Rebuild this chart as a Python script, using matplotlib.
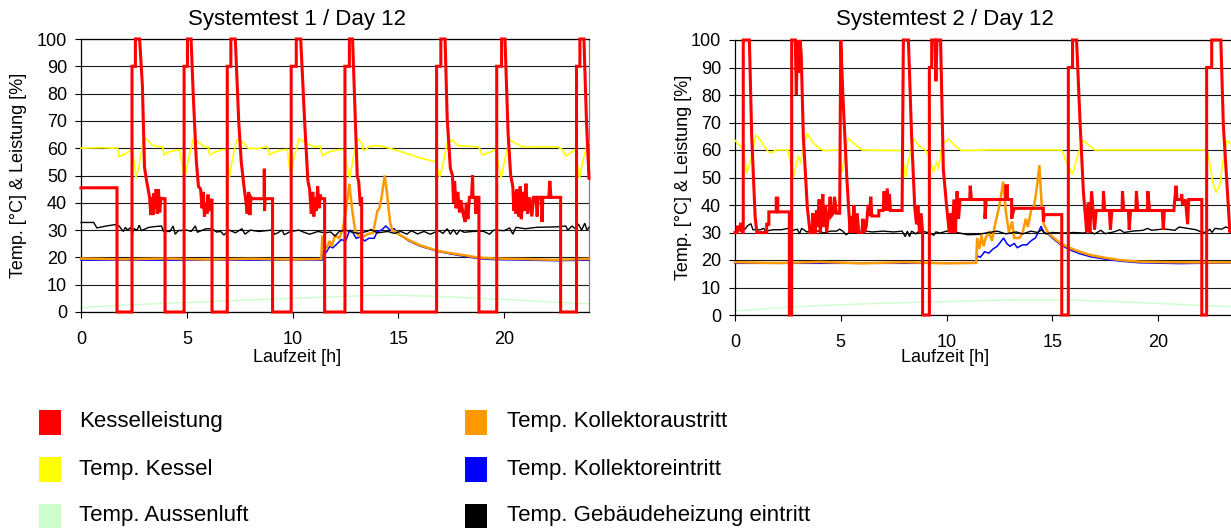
import matplotlib
matplotlib.use("Agg")
import matplotlib.pyplot as plt
from matplotlib.patches import Rectangle

plt.rcParams['font.family'] = ['Liberation Sans', 'DejaVu Sans']

titles = ["Systemtest 1 / Day 12", "Systemtest 2 / Day 12"]
xticks = [0, 5, 10, 15, 20]
yticks = [0, 10, 20, 30, 40, 50, 60, 70, 80, 90, 100]

labels = ["Kesselleistung", "Temp. Kessel", "Temp. Aussenluft",
          "Temp. Kollektoraustritt", "Temp. Kollektoreintritt", "Temp. Gebäudeheizung eintritt"]
colors = ["#ff0000", "#ffff00", "#ccffcc", "#ff9900", "#0000ff", "#000000"]

# ---- Systemtest 1 ----
s1_red = [(0, 45.5), (1.70, 45.5), (1.70, 0), (2.41, 0), (2.41, 90), (2.57, 90), (2.57, 100), (2.77, 100),
          (2.9, 83), (3.0, 53), (3.1, 48), (3.24, 42), (3.3, 35.5), (3.35, 42), (3.4, 35.5), (3.45, 43.5),
          (3.5, 38), (3.55, 45), (3.6, 36), (3.66, 45), (3.72, 36.5), (3.78, 42), (3.82, 41.5), (3.97, 41.5),
          (3.97, 0), (4.87, 0), (4.87, 90), (5.03, 90), (5.03, 100), (5.2, 100), (5.3, 80), (5.45, 55),
          (5.55, 46), (5.65, 45), (5.72, 38), (5.78, 44), (5.83, 35), (5.9, 40), (5.95, 36), (6.0, 43),
          (6.05, 37), (6.1, 41), (6.19, 41), (6.19, 0), (6.91, 0), (6.91, 90), (7.08, 90), (7.08, 100),
          (7.29, 100), (7.45, 70), (7.57, 55), (7.7, 46), (7.8, 40), (7.85, 36), (7.92, 44), (7.98, 35.5),
          (8.03, 42), (8.08, 41.5), (8.65, 41.5), (8.65, 52), (8.67, 52), (8.67, 37), (8.7, 41.5), (9.05, 41.5),
          (9.05, 0), (9.93, 0), (9.93, 90), (10.17, 90), (10.17, 100), (10.38, 100), (10.57, 69), (10.72, 48),
          (10.8, 45), (10.88, 36), (10.95, 44), (11.0, 35), (11.05, 42), (11.12, 37), (11.18, 46), (11.25, 38),
          (11.3, 43), (11.36, 41.5), (11.51, 41.5), (11.51, 0), (12.47, 0), (12.47, 90), (12.68, 90),
          (12.68, 100), (12.83, 100), (12.95, 73), (13.05, 50), (13.12, 47.7), (13.2, 39), (13.26, 42),
          (13.26, 0), (16.8, 0), (16.8, 90), (17.0, 90), (17.0, 100), (17.2, 100), (17.3, 71), (17.45, 52.6),
          (17.55, 50), (17.6, 40), (17.65, 48), (17.72, 38), (17.8, 44), (17.88, 36.5), (17.95, 41), (18.05, 36),
          (18.15, 33), (18.2, 40), (18.28, 34), (18.35, 42), (18.45, 42), (18.5, 50), (18.52, 42), (18.62, 42),
          (18.65, 36), (18.7, 42), (18.8, 42), (18.8, 0), (19.64, 0), (19.64, 90), (19.87, 90), (19.87, 100),
          (20.03, 100), (20.18, 65), (20.3, 50), (20.4, 46), (20.45, 37), (20.5, 44), (20.55, 36), (20.6, 45),
          (20.68, 35), (20.75, 46), (20.8, 34), (20.88, 44), (20.95, 37), (21.02, 47), (21.1, 36), (21.2, 42),
          (21.3, 35), (21.38, 42), (21.5, 42), (21.55, 35), (21.6, 42), (21.75, 42), (21.78, 33), (21.82, 42),
          (22.1, 42), (22.15, 48), (22.2, 42), (22.66, 42), (22.66, 0), (23.41, 0), (23.41, 90), (23.57, 90),
          (23.57, 100), (23.76, 100), (23.88, 70), (24, 49)]
s1_yellow = [(0, 60), (1.0, 60.2), (1.5, 60.0), (1.72, 60.2), (1.80, 57), (2.0, 57.5), (2.3, 59), (2.45, 59),
             (2.6, 49), (2.75, 54), (2.95, 63), (3.1, 63.3), (3.4, 61), (3.7, 60.5), (3.85, 60.5), (3.92, 57.5),
             (4.1, 58.5), (4.5, 59.3), (4.65, 59.3), (4.9, 49), (5.05, 55), (5.3, 63.3), (5.5, 62.5), (5.8, 60.6),
             (6.0, 60.4), (6.08, 57.5), (6.3, 58.5), (6.7, 59.5), (6.85, 59.5), (7.0, 49), (7.15, 56), (7.35, 63),
             (7.6, 62.5), (7.9, 60), (8.3, 59.8), (8.8, 60.5), (8.9, 57.5), (9.1, 58.5), (9.6, 59.5), (9.75, 59.5),
             (9.9, 49), (10.05, 56), (10.3, 63.5), (10.6, 62), (11.0, 60.5), (11.3, 60.7), (11.4, 57.3),
             (11.7, 58.6), (12.2, 59.5), (12.42, 59.5), (12.7, 49), (12.85, 56), (13.05, 63.5), (13.25, 62),
             (13.35, 59), (13.6, 60.5), (13.9, 61), (14.3, 60.6), (15.0, 59), (16.0, 56.5), (16.75, 55),
             (16.95, 49.5), (17.1, 54), (17.3, 62), (17.55, 63), (17.8, 61), (18.2, 60.8), (18.8, 60.5),
             (18.95, 57.5), (19.3, 58.5), (19.6, 59.5), (19.85, 49), (20.0, 55), (20.25, 63), (20.5, 62),
             (20.8, 60.6), (21.5, 60.5), (22.5, 60.5), (22.75, 59.5), (22.9, 57.2), (23.2, 58.7), (23.35, 59.5),
             (23.55, 49), (23.7, 55), (23.95, 62.5), (24, 62)]
s1_green = [(0, 1.6), (2, 2.5), (4, 3.2), (6, 3.8), (8, 4.4), (10, 5.0), (12, 5.6), (13.5, 6.0), (15, 6.1),
            (16.5, 5.8), (18, 5.3), (20, 4.6), (22, 3.8), (24, 3.0)]
s1_orange = [(0, 19.6), (2, 19.3), (4, 19.6), (6, 19.2), (8, 19.5), (10, 19.2), (11.35, 19.4), (11.4, 28),
             (11.5, 24), (11.6, 23.5), (11.75, 26), (11.85, 24), (12.0, 28), (12.2, 27), (12.35, 30), (12.5, 36),
             (12.68, 47), (12.8, 38), (12.95, 30), (13.1, 28), (13.3, 27.5), (13.55, 28.5), (13.8, 29), (14.0, 37),
             (14.1, 38), (14.2, 42), (14.35, 50), (14.45, 44), (14.6, 33), (14.7, 30), (14.85, 29.5), (15.0, 28.5),
             (15.5, 26.3), (16.0, 24.5), (16.8, 22.5), (17.5, 21.5), (18.1, 20.8), (18.7, 20), (19.5, 19.6),
             (21, 19.4), (22.5, 19.1), (24, 19.5)]
s1_blue = [(0, 19.0), (11.4, 19.0), (11.45, 22.5), (11.6, 22), (11.75, 24), (11.9, 23.5), (12.1, 25), (12.3, 26.5),
           (12.5, 26), (12.7, 30), (12.85, 29), (13.0, 27), (13.2, 27.5), (13.4, 26), (13.6, 27), (13.85, 27),
           (14.0, 29.5), (14.2, 30), (14.4, 31.5), (14.6, 30), (14.8, 30.5), (15.0, 28.5), (15.5, 26), (16.0, 24.2),
           (16.8, 22.3), (17.5, 21.2), (18.1, 20.4), (18.8, 19.5), (19.5, 19.2), (21, 19.0), (22.5, 18.8), (24, 19)]
s1_black = [(0, 32.8), (0.6, 32.8), (0.75, 30.8), (1.2, 31.5), (1.6, 32), (1.8, 31.5), (2.0, 29.5), (2.1, 31),
            (2.2, 30), (2.35, 31), (2.42, 28.5), (2.5, 30.5), (2.65, 30), (2.75, 31.8), (2.85, 29.8), (3.2, 31),
            (3.5, 31.3), (3.8, 31.5), (3.9, 29.5), (4.2, 29.5), (4.35, 31.5), (4.45, 28.5), (4.6, 29.8), (5.0, 30),
            (5.2, 29.5), (5.4, 31.5), (5.5, 29.2), (5.9, 30.5), (6.2, 30.5), (6.4, 29.3), (6.6, 29.5), (6.75, 28.2),
            (7.0, 30), (7.3, 29), (7.6, 30.5), (7.75, 28.5), (8.0, 30), (8.4, 29.5), (9.0, 30), (9.15, 28.5),
            (9.3, 29), (9.5, 30), (9.6, 28.3), (9.9, 29.5), (10.3, 30), (10.5, 29.3), (10.8, 28.5), (11.2, 29.5),
            (11.5, 29), (11.8, 29.3), (12.0, 27.8), (12.2, 29.5), (12.5, 30), (12.8, 29.3), (13.1, 28.8),
            (13.5, 29.5), (13.7, 30.2), (14.0, 29.0), (14.5, 29.5), (14.8, 28.8), (15.1, 29.5), (15.4, 28.5),
            (15.6, 29.8), (15.9, 28.6), (16.2, 29.5), (16.5, 28.5), (16.9, 29.8), (17.1, 28.8), (17.3, 30.5),
            (17.45, 28.5), (17.6, 30.2), (17.75, 28.4), (17.9, 30.0), (18.1, 29.2), (18.5, 29.5), (19.0, 29.6),
            (19.3, 28.5), (19.5, 30), (20.0, 29.8), (20.25, 30.8), (20.4, 28.5), (20.55, 31), (21.0, 30.5),
            (21.5, 31), (22.5, 31.2), (22.9, 31.5), (23.0, 30), (23.2, 31.5), (23.35, 30.5), (23.5, 32.2),
            (23.65, 30), (23.8, 32.5), (23.9, 30), (24, 31)]

# ---- Systemtest 2 ----
s2_red = [(0, 30), (0.1, 30), (0.1, 32), (0.2, 32), (0.2, 30.5), (0.28, 33.5), (0.35, 30), (0.39, 30), (0.39, 100),
          (0.68, 100), (0.79, 65), (0.95, 36), (1.03, 30), (1.5, 30), (1.5, 33), (1.6, 33), (1.6, 37.5), (1.95, 37.5),
          (1.95, 42.5), (2.02, 42.5), (2.02, 37.5), (2.57, 37.5), (2.57, 0), (2.68, 0), (2.68, 100), (2.85, 100),
          (2.9, 80), (2.95, 100), (3.02, 88), (3.08, 100), (3.13, 95), (3.23, 65), (3.42, 39), (3.55, 30),
          (3.65, 30), (3.68, 37), (3.72, 30), (3.8, 30), (3.85, 38), (3.9, 32), (3.98, 42), (4.03, 30), (4.1, 35),
          (4.15, 44), (4.2, 32), (4.28, 40), (4.33, 30), (4.45, 38), (4.5, 43), (4.55, 36), (4.65, 37), (4.7, 43),
          (4.8, 37), (4.95, 37), (5.0, 100), (5.1, 80), (5.28, 51), (5.44, 30), (5.5, 36), (5.56, 30), (5.62, 40),
          (5.7, 30), (5.78, 37), (5.85, 30), (6.0, 30), (6.05, 35), (6.1, 30), (6.2, 32), (6.3, 40), (6.35, 36),
          (6.42, 43), (6.47, 36), (6.8, 36), (6.8, 38), (7.0, 38), (7.05, 45), (7.1, 38), (7.2, 46), (7.25, 38),
          (7.3, 44), (7.35, 38), (7.9, 38), (7.96, 100), (8.2, 100), (8.35, 65), (8.5, 39), (8.58, 33), (8.65, 40),
          (8.72, 30), (8.8, 37), (8.87, 30), (8.87, 0), (9.19, 0), (9.19, 90), (9.3, 90), (9.3, 100), (9.45, 100),
          (9.5, 85), (9.55, 100), (9.72, 100), (9.85, 53), (10.0, 40), (10.13, 30), (10.2, 37), (10.27, 30),
          (10.35, 42), (10.42, 30), (10.5, 45), (10.57, 35), (10.64, 42), (11.1, 42), (11.12, 47), (11.18, 42),
          (11.82, 42), (11.82, 35), (11.88, 42), (12.8, 42), (12.8, 47), (12.88, 47), (12.88, 42), (13.08, 42),
          (13.08, 35), (13.2, 38.8), (14.58, 38.8), (14.58, 34), (14.62, 36.5), (15.45, 36.5), (15.45, 0),
          (15.76, 0), (15.76, 90), (15.96, 90), (15.96, 100), (16.15, 100), (16.31, 71), (16.47, 45), (16.63, 30),
          (16.7, 41), (16.78, 30), (16.86, 45), (16.94, 37), (17.0, 31), (17.08, 38), (17.4, 38), (17.42, 45),
          (17.48, 38), (17.7, 38), (17.75, 31), (17.82, 38), (18.3, 38), (18.32, 45), (18.38, 38), (18.6, 38),
          (18.64, 31), (18.7, 38), (18.95, 38), (18.98, 45), (19.04, 38), (19.5, 38), (19.52, 45), (19.6, 38),
          (20.2, 38), (20.25, 31), (20.3, 38), (20.75, 38), (20.85, 47), (20.9, 42), (21.1, 42), (21.12, 44),
          (21.16, 40), (21.3, 42), (21.4, 33), (21.45, 42), (22.07, 42), (22.07, 0), (22.3, 0), (22.3, 90),
          (22.54, 90), (22.54, 100), (22.97, 100), (23.09, 69), (23.25, 49), (23.4, 30), (23.6, 35), (24, 38)]
s2_yellow = [(0, 63.5), (0.3, 61), (0.42, 60), (0.55, 51.5), (0.7, 55), (1.0, 65.5), (1.2, 63.5), (1.55, 59.5),
             (1.75, 59), (1.9, 60), (2.5, 60), (2.62, 55), (2.76, 50), (2.9, 55), (3.0, 58), (3.1, 55), (3.25, 62),
             (3.42, 66), (3.7, 62.5), (4.0, 60.5), (4.2, 59.8), (4.95, 60), (5.05, 52), (5.15, 56), (5.35, 64.3),
             (5.6, 62.5), (6.0, 60), (7.9, 59.8), (8.05, 50), (8.2, 56), (8.45, 64), (8.7, 61.5), (9.0, 60),
             (9.2, 57), (9.38, 52), (9.55, 56), (9.62, 53), (9.8, 62), (10.1, 64), (10.4, 61.5), (10.7, 59.8),
             (12, 60), (15.45, 60), (15.6, 57), (15.95, 51), (16.2, 58), (16.45, 63.5), (16.7, 62), (17.0, 60),
             (22.3, 60), (22.45, 55), (22.6, 48), (22.75, 44.5), (22.95, 48), (23.05, 55), (23.25, 63.5),
             (23.5, 62), (24, 60.5)]
s2_green = [(0, 1.5), (2, 2.6), (4, 3.4), (6, 4.0), (8, 4.5), (10, 4.9), (12, 5.3), (14, 5.5), (16, 5.4),
            (18, 4.9), (20, 4.2), (22, 3.5), (24, 2.8)]
s2_orange = [(0, 19.2), (2, 18.9), (4, 19.3), (6, 18.8), (8, 19.2), (10, 18.8), (11.4, 19), (11.45, 28),
             (11.55, 24), (11.65, 29), (11.75, 25), (11.85, 28), (12.0, 30), (12.15, 27), (12.3, 33), (12.45, 38),
             (12.55, 42), (12.68, 48.5), (12.8, 38), (12.95, 30), (13.1, 34), (13.2, 28), (13.45, 28), (13.6, 30),
             (13.75, 35), (13.85, 32), (14.0, 38), (14.15, 40), (14.3, 48), (14.39, 54.5), (14.5, 40), (14.6, 33),
             (14.8, 30), (15.0, 28.5), (15.4, 26), (15.8, 24.5), (16.3, 23), (16.8, 21.8), (17.5, 20.8),
             (18.2, 20), (19.1, 19.4), (20.5, 19.2), (22, 19.1), (24, 19.2)]
s2_blue = [(0, 18.8), (11.4, 18.8), (11.45, 21.5), (11.6, 21), (11.8, 23), (12.0, 22.5), (12.2, 24), (12.4, 25),
           (12.55, 26.5), (12.7, 28), (12.85, 26), (13.0, 25), (13.2, 26), (13.35, 24.5), (13.6, 25.5), (13.8, 25.5),
           (14.0, 27), (14.2, 28), (14.4, 31), (14.47, 32.3), (14.6, 30), (14.8, 29.5), (15.0, 28), (15.4, 25.5),
           (15.8, 23.8), (16.3, 22.3), (16.8, 21.2), (17.5, 20.3), (18.2, 19.6), (19.1, 19.0), (21, 18.7),
           (22, 18.8), (24, 19)]
s2_black = [(0, 30), (0.15, 31.5), (0.25, 30.5), (0.35, 32.5), (0.45, 31), (0.6, 32.5), (0.75, 33.2), (0.85, 31),
            (1.2, 31), (1.35, 31.5), (1.45, 30.5), (1.8, 31), (2.2, 31), (2.5, 31.5), (2.75, 30.8), (2.95, 31.2),
            (3.05, 29.5), (3.15, 31.5), (3.25, 31), (3.4, 30.2), (3.55, 30.5), (4.0, 30.5), (4.2, 29.8), (4.5, 30.5),
            (4.8, 30.5), (4.95, 31.2), (5.1, 30.5), (5.25, 29.2), (5.4, 30), (5.8, 30), (6.2, 30.5), (6.5, 30.2),
            (7.0, 30.5), (7.5, 30.2), (7.9, 30.5), (8.05, 28.5), (8.15, 30.5), (8.25, 28.5), (8.35, 30.5),
            (8.55, 29.5), (8.7, 30.5), (9.0, 30.2), (9.2, 29.8), (9.4, 29.0), (9.5, 30.2), (9.7, 29.8), (10.0, 30.5),
            (10.5, 30), (11.0, 29.2), (11.5, 29.3), (12.0, 30), (12.4, 30.5), (12.8, 29.5), (13.3, 30.2),
            (13.6, 29.5), (14.0, 30.5), (14.3, 30.0), (14.5, 31), (14.7, 29.5), (15.0, 30), (15.5, 29.8), (16.0, 30),
            (16.5, 29.8), (16.7, 30.6), (17.0, 29.5), (17.3, 30.8), (17.5, 29.6), (17.9, 30.2), (18.2, 31),
            (18.4, 30), (18.8, 30.5), (19.3, 30.8), (19.5, 31.5), (19.7, 30.8), (20.3, 31.3), (20.8, 30.8),
            (21.0, 32), (21.4, 31.5), (21.8, 31), (22.1, 30), (22.3, 30.2), (22.45, 31.2), (22.55, 30),
            (22.7, 31.5), (23.0, 31.2), (23.2, 32), (23.4, 31.5), (24, 31.5)]

W, H = 1231, 528
fig = plt.figure(figsize=(W / 100, H / 100), dpi=100)

# axes boxes in pixels: left, top, width, height
boxes = [(81, 39, 508, 273), (735, 40, 507.6, 275)]
datasets = [
    (s1_red, s1_yellow, s1_green, s1_orange, s1_blue, s1_black),
    (s2_red, s2_yellow, s2_green, s2_orange, s2_blue, s2_black),
]
widths = {"#ff0000": 2.2, "#ffff00": 1.2, "#ccffcc": 1.0, "#ff9900": 1.8, "#0000ff": 1.1, "#000000": 1.0}
zorders = {"#ff0000": 7, "#ffff00": 6, "#ccffcc": 2, "#ff9900": 4, "#0000ff": 3, "#000000": 5}
text_off = [(297, 19), (945, 19)]
ylab_x = [19, 683]

for i, (bx, by, bw, bh) in enumerate(boxes):
    ax = fig.add_axes([bx / W, 1 - (by + bh) / H, bw / W, bh / H])
    for series, col in zip(datasets[i], colors):
        xs = [p[0] for p in series]
        ys = [p[1] for p in series]
        ax.plot(xs, ys, color=col, lw=widths[col], zorder=zorders[col], solid_joinstyle='miter', clip_on=False)
    ax.set_xlim(0, 24)
    ax.set_ylim(0, 100)
    ax.set_xticks(xticks)
    ax.set_yticks(yticks)
    ax.yaxis.grid(True, color='#1a1a1a', lw=0.8)
    ax.set_axisbelow(True)
    ax.tick_params(axis='x', direction='out', length=4, width=0.8, pad=9.5, labelsize=13)
    ax.tick_params(axis='y', direction='out', length=4, width=0.8, pad=6, labelsize=13)
    for s in ['left', 'bottom', 'top']:
        ax.spines[s].set_color('black')
        ax.spines[s].set_linewidth(0.9)
    ax.spines['right'].set_color('#808080')
    ax.spines['right'].set_linewidth(0.9)
    tx, ty = text_off[i]
    ax.text((tx - bx) / bw, 1 + (by - ty) / bh, titles[i], transform=ax.transAxes,
            ha='center', va='center', fontsize=16)
    ax.text((tx - bx) / bw, -(357 - by - bh) / bh, "Laufzeit [h]", transform=ax.transAxes,
            ha='center', va='center', fontsize=13)
    ax.text((ylab_x[i] - bx) / bw, 0.5, "Temp. [°C] & Leistung [%]", transform=ax.transAxes,
            ha='center', va='center', rotation=90, fontsize=13)

# legend (two columns, three rows)
col_x = [(39, 79), (465, 507)]
row_y = [422, 469, 516]
for k, (lab, col) in enumerate(zip(labels, colors)):
    sx, tx = col_x[k // 3]
    cy = row_y[k % 3]
    fig.add_artist(Rectangle((sx / W, 1 - (cy + 12.5) / H), 22 / W, 25 / H,
                             transform=fig.transFigure, facecolor=col, edgecolor='none'))
    fig.text(tx / W, 1 - cy / H, lab, ha='left', va='center', fontsize=16)

fig.savefig("out.png", dpi=100)
